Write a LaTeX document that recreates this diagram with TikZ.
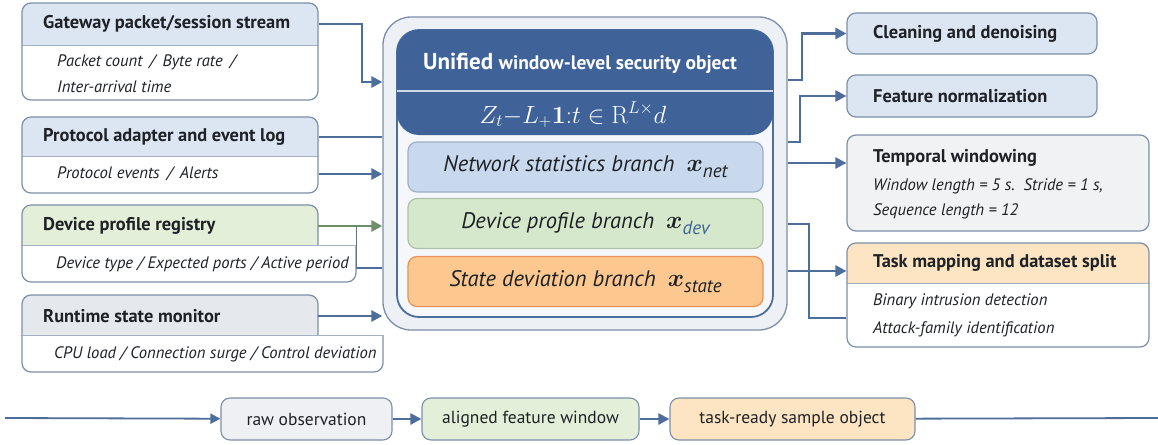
\documentclass[tikz,border=0pt]{standalone}
\usepackage{amsmath,amssymb}
\usepackage[no-math]{fontspec}
\setmainfont{PT Sans}
\usetikzlibrary{arrows.meta,fit,calc}
\definecolor{bord}{HTML}{7D8FA8}
\definecolor{lineb}{HTML}{4D6D9A}
\definecolor{hblue}{HTML}{DCE6F2}
\definecolor{hgreen}{HTML}{E3EFD8}
\definecolor{hgray}{HTML}{E5E8ED}
\definecolor{horange}{HTML}{FDE5C3}
\definecolor{darkb}{HTML}{3F6399}
\definecolor{outerf}{HTML}{EDF1F6}
\definecolor{innerf}{HTML}{F5F7FA}
\definecolor{netf}{HTML}{C9D9ED}
\definecolor{devf}{HTML}{D5E8CB}
\definecolor{statef}{HTML}{FDC88F}
\definecolor{stateb}{HTML}{E8935A}
\definecolor{greenl}{HTML}{6C8F68}
\definecolor{txt}{HTML}{1E2125}
\definecolor{tempf}{HTML}{F1F2F4}
\definecolor{rawf}{HTML}{EEF0F3}
\definecolor{subb}{HTML}{3F6399}
\newcommand\splitbox[7]{%
  \begin{scope}
    \clip[rounded corners=9pt] (#2,#3) rectangle (#4,#5);
    \fill[white] (#2,#3) rectangle (#4,#5);
    \fill[#7] (#2,#3) rectangle (#4,#6);
  \end{scope}
  \draw[divl] (#2,#6) -- (#4,#6);
  \node[frame, fit={(#2,#3) (#4,#5)}] (#1) {};
}
\newcommand\lshapebox[8]{%
  \begin{scope}\clip (#2-3,#3-3) rectangle (#4+3,#5);
    \filldraw[fill=#8, draw=bord, line width=1.2pt, rounded corners=9pt] (#2,#3) rectangle (#4,#5+20);
  \end{scope}
  \begin{scope}\clip (#2-3,#5) rectangle (#6+3,#7+3);
    \filldraw[fill=white, draw=bord, line width=1.2pt, rounded corners=9pt] (#2,#5-20) rectangle (#6,#7);
  \end{scope}
  \draw[divl] (#2,#5) -- (#6,#5);
  \node[fit={(#2,#3) (#4,#5)}, inner sep=0pt] (#1h) {};
  \node[fit={(#2,#5) (#6,#7)}, inner sep=0pt] (#1b) {};
}
\begin{document}
\begin{tikzpicture}[x=1pt,y=-1pt,
  frame/.style={draw=bord, line width=1.2pt, rounded corners=9pt, inner sep=0pt},
  divl/.style={draw=bord!70, line width=0.8pt},
  conn/.style={draw=lineb, line width=2.6pt},
  arr/.style={conn, -{Triangle[length=11pt,width=11pt]}},
  garr/.style={draw=greenl, line width=2.8pt, -{Triangle[length=11pt,width=11pt]}},
  hd/.style={anchor=west, text=txt, font=\fontsize{18.4}{21}\selectfont\bfseries, inner sep=0pt},
  bd/.style={anchor=west, text=txt, font=\fontsize{16.6}{19}\selectfont\itshape, inner sep=0pt},
  br/.style={rounded corners=9pt, line width=1.2pt, minimum width=355pt, minimum height=50pt, inner sep=0pt, text=txt, font=\fontsize{22.5}{24}\selectfont\itshape},
  pill/.style={draw=bord, line width=1.1pt, rounded corners=9pt, minimum height=42pt, inner sep=0pt, text=txt, font=\fontsize{17.5}{20}\selectfont}
]
\useasboundingbox (0,0) rectangle (1158,444);
\fill[white] (0,0) rectangle (1158,444);

% ---------------- left sources ----------------
\splitbox{gw}{22}{3}{318}{100}{45}{hblue}
\node[hd] (gwt) at (43,24) {Gateway packet/session stream};
\node[bd] (gwb1) at (57,62) {Packet count\, /\, Byte rate\, /};
\node[bd] (gwb2) at (57,87) {Inter-arrival time};

\splitbox{pr}{22}{117}{318}{193}{156}{hblue}
\node[hd] (prt) at (43,137) {Protocol adapter and event log};
\node[bd] (prb) at (57,174) {Protocol events\, /\, Alerts};

\lshapebox{dv}{22}{205}{318}{245}{356}{282}{hgreen}
\node[hd] (dvt) at (43,226) {Device profile registry};
\node[bd] (dvbt) at (56,264) {Device type / Expected ports / Active period};

\lshapebox{rt}{22}{295}{318}{335}{383}{372}{hgray}
\node[hd] (rtt) at (43,316) {Runtime state monitor};
\node[bd] (rtbt) at (54,354) {CPU load / Connection surge / Control deviation};

% ---------------- central object ----------------
\node[fit={(383,17) (787,330)}, inner sep=0pt, draw=bord, line width=1.3pt, fill=outerf, rounded corners=28pt] (outer) {};
\node[fit={(397,30) (773,317)}, inner sep=0pt, draw=lineb, line width=1.8pt, fill=innerf, rounded corners=22pt] (inner) {};
\node[fit={(397,30) (773,135)}, inner sep=0pt, fill=darkb, rounded corners=22pt] (band) {};
\draw[draw=white!75!darkb, line width=1.8pt] (band.west|-0,91) -- (band.east|-0,91);
\node[text=white, inner sep=0pt] (title) at (580,63) {\fontsize{23}{24}\selectfont\bfseries Unified \fontsize{19.5}{24}\selectfont window-level security object};
\node[text=white, inner sep=0pt] (formula) at (573,115) {\fontsize{23}{24}\selectfont $Z_t{-}L_{+}\mathbf{1}{:}t \in \mathrm{R}^{L\times}d$};

\node[br, fill=netf, draw=lineb!55] (net) at (585.5,167) {Network statistics branch\ \ {\fontsize{27}{27}\selectfont$\boldsymbol{x}$}\raisebox{-6pt}{\fontsize{19}{19}\selectfont net}};
\node[br, fill=devf, draw=greenl!55] (dev) at (585.5,223.5) {Device profile branch\ \ {\fontsize{27}{27}\selectfont$\boldsymbol{x}$}\raisebox{-6pt}{\fontsize{19}{19}\selectfont\color{subb}dev}};
\node[br, fill=statef, draw=stateb] (state) at (585.5,281.5) {State deviation branch\ \ {\fontsize{27}{27}\selectfont$\boldsymbol{x}$}\raisebox{-6pt}{\fontsize{19}{19}\selectfont state}};

% ---------------- right targets ----------------
\node[frame, fill=hblue, fit={(847,13) (1097,54)}] (clean) {};
\node[hd] (cleant) at (873,34) {Cleaning and denoising};
\node[frame, fill=hblue, fit={(847,75) (1097,117)}] (feat) {};
\node[hd] (featt) at (873,96) {Feature normalization};
\node[frame, fill=tempf, fit={(847,135) (1149,231)}] (temp) {};
\node[hd] (tempt) at (873,158) {Temporal windowing};
\node[bd] (tempb1) at (873,186) {Window length = 5 s.\ \ Stride = 1 s,};
\node[bd] (tempb2) at (873,211) {Sequence length = 12};
\splitbox{task}{847}{243}{1149}{347}{283}{horange}
\node[hd] (taskt) at (873,263) {Task mapping and dataset split};
\node[bd] (taskb1) at (873,301) {Binary intrusion detection};
\node[bd] (taskb2) at (873,329) {Attack-family identification};

% ---------------- left connectors ----------------
\draw[arr] (gw.east|-gwt) -- (362,24) |- (outer.west|-0,82);
\draw[conn] (pr.east|-prt) -- (outer.west|-prt);
\draw[arr] (pr.east|-prb) -- (outer.west|-prb);
\draw[garr] (dvh.east|-dvt) -- (outer.west|-dvt);
\draw[draw=bord!80!black, line width=1pt] (dvb.east|-dvt) -- (dvb.east|-0,268);
\draw[conn] (dvb.east|-0,268) -- (outer.west|-0,268);
\draw[arr] (rth.east|-rtt) -- (outer.west|-rtt);

% ---------------- right connectors ----------------
\draw[arr] (outer.east|-0,80) -- (802,80) |- (clean.west);
\draw[arr] (outer.east|-0,142) -- (800,142) |- (feat.west);
\draw[arr] (outer.east|-0,163) -- (temp.west|-0,163);
\draw[conn] (outer.east|-0,224) -- (809,224) |- (task.west|-0,318);
\draw[arr] (outer.east|-0,271) -- (task.west|-0,271);

% ---------------- bottom flow ----------------
\node[pill, fill=rawf, minimum width=171pt] (raw) at (306.5,419) {raw observation};
\node[pill, fill=hgreen, minimum width=217pt] (alig) at (530.5,419) {aligned feature window};
\node[pill, fill=horange, minimum width=245pt] (ready) at (792.5,419) {task-ready sample object};
\coordinate (bl) at (5,418);
\coordinate (bend) at (1158,418);
\draw[draw=lineb, line width=1.8pt, -{Triangle[length=10pt,width=10pt]}] (bl) -- (raw);
\draw[draw=lineb, line width=2.6pt, -{Triangle[length=11pt,width=11pt]}] (raw) -- (alig);
\draw[draw=lineb, line width=2.6pt, -{Triangle[length=11pt,width=11pt]}] (alig) -- (ready);
\draw[draw=lineb, line width=1.8pt] (ready) -- (bend);
\end{tikzpicture}
\end{document}
